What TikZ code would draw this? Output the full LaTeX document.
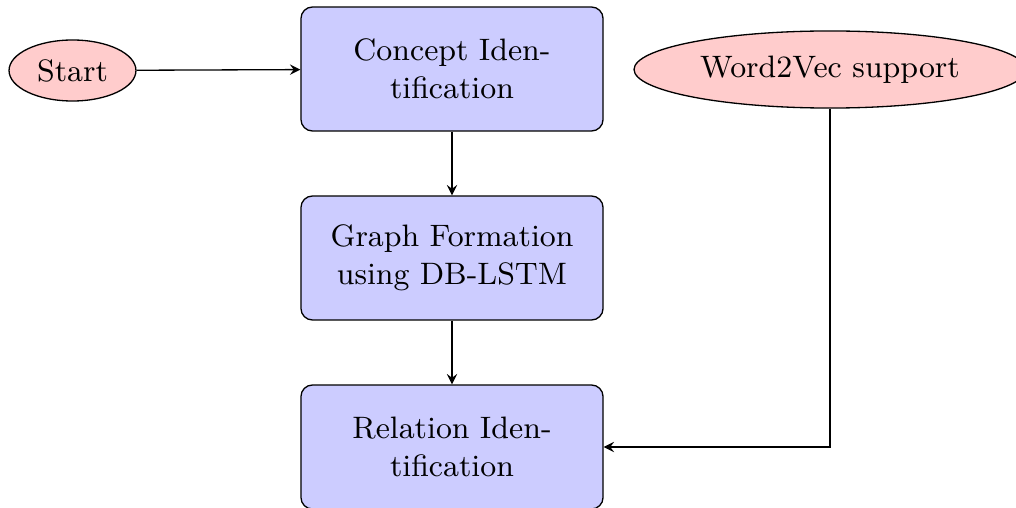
\documentclass[tikz,border=0pt]{standalone}
\usetikzlibrary{shapes.geometric}
\begin{document}
\begin{tikzpicture}[x=0.3049pt,y=-0.3049pt,
  font=\fontsize{9.45pt}{11.6pt}\selectfont,
  procbox/.style={rectangle, rounded corners=3.5pt, draw=black, fill=blue!20,
    minimum width=92.1pt, minimum height=37.8pt, text width=85pt, align=center, inner sep=0pt},
  startel/.style={ellipse, draw=black, fill=red!20, inner sep=0pt},
  conn/.style={-stealth, line width=0.4pt}]
\useasboundingbox (0,0) rectangle (1016,508);
\node[startel, minimum width=38.7pt, minimum height=18.6pt] (start) at (72.5,70.5) {Start};
\node[procbox] (ci) at (452,69) {Concept Iden-\\tification};
\node[procbox] (gf) at (452,258) {Graph Formation\\using DB-LSTM};
\node[procbox] (ri) at (452,447) {Relation Iden-\\tification};
\node[startel, minimum width=119.5pt, minimum height=23.5pt] (w2v) at (830,69.5) {Word2Vec support};
\draw[conn] (start) -- (ci);
\draw[conn] (ci) -- (gf);
\draw[conn] (gf) -- (ri);
\draw[conn] (w2v.south) |- (ri.east);
\end{tikzpicture}
\end{document}
